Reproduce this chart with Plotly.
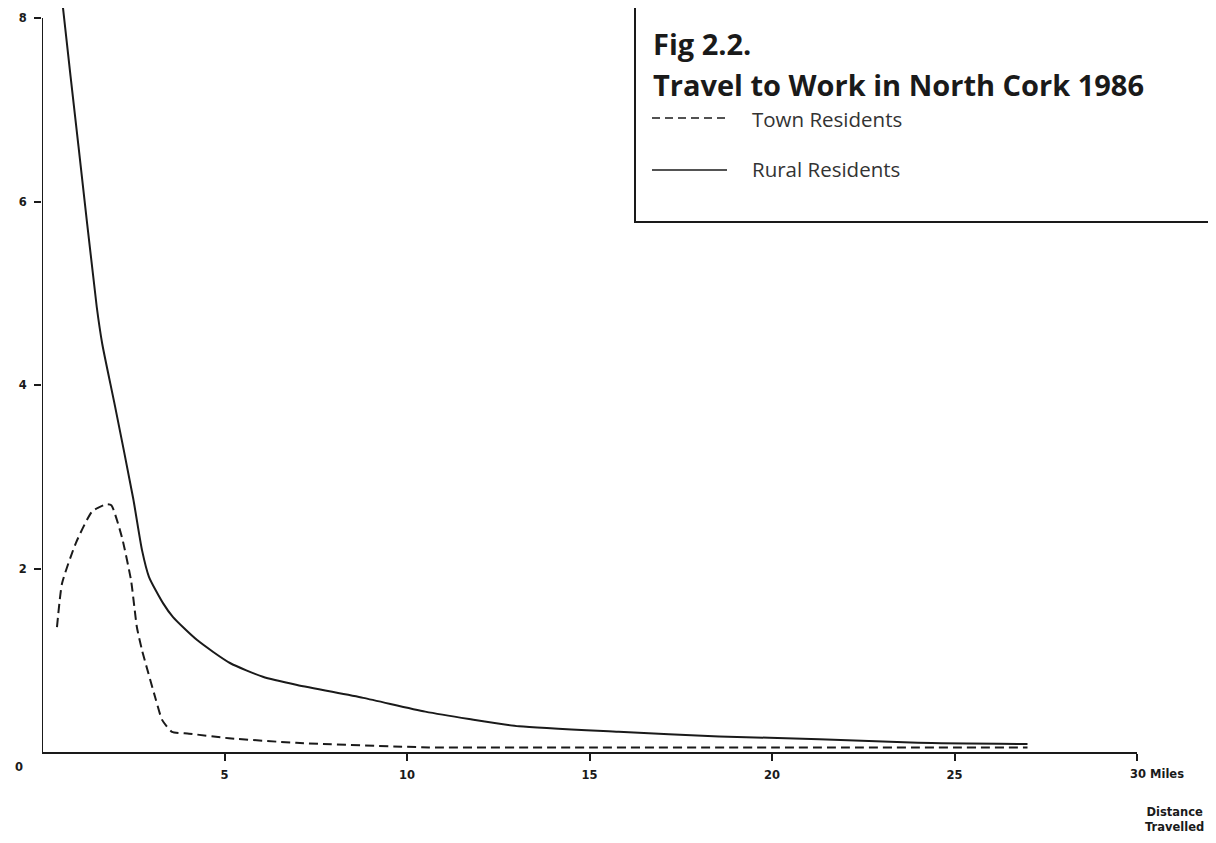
import plotly.graph_objects as go

# ---- data ----
rural_miles = [0.5, 0.55, 1.0, 1.5, 1.65, 2.0, 2.5, 2.74, 2.93, 3.32, 3.59, 4.25, 5.15, 6.05, 6.99,
               8.8, 10.5, 11.7, 13.07, 15.8, 18.55, 21.3, 24.0, 27.0]
rural_pct = [8.45, 8.2, 6.6, 4.85, 4.45, 3.77, 2.76, 2.2, 1.91, 1.62, 1.47, 1.22, 0.97, 0.82, 0.73,
             0.59, 0.44, 0.36, 0.28, 0.22, 0.17, 0.14, 0.10, 0.087]

town_miles = [0.41, 0.55, 0.93, 1.37, 1.75, 1.9, 2.19, 2.44, 2.6, 2.74, 3.12, 3.29, 3.56, 4.03,
              5.12, 6.96, 10.6, 15.0, 20.0, 27.0]
town_pct = [1.36, 1.84, 2.28, 2.62, 2.70, 2.69, 2.34, 1.87, 1.36, 1.11, 0.57, 0.35, 0.22, 0.20,
            0.15, 0.10, 0.05, 0.05, 0.05, 0.05]

x_ticks = [5, 10, 15, 20, 25, 30]
x_tick_text = ["5", "10", "15", "20", "25", ""]
y_ticks = [2, 4, 6, 8]
y_tick_text = ["2", "4", "6", "8"]

title_line1 = "Fig 2.2."
title_line2 = "Travel to Work in North Cork 1986"
town_label = "Town Residents"
rural_label = "Rural Residents"

INK = "#1a1a1a"
tick_font = dict(family="DejaVu Sans", size=11.5, color=INK, weight="bold")

# page offset (body margin) and plot-area geometry in page px
OFF = 8
L_page, R_page, T_page, B_page = 42, 1137, 8, 752
L, R, T, B = L_page - OFF, R_page - OFF, T_page - OFF, B_page - OFF
W, H = R - L, B - T
PX_PER_UNIT = 91.75
y_top = (B_page - T_page) / PX_PER_UNIT

def px(xp):  # page x px -> paper
    return (xp - OFF - L) / W
def py(yp):  # page y px -> paper
    return (B - (yp - OFF)) / H

fig = go.Figure()
fig.add_trace(go.Scatter(x=rural_miles, y=rural_pct, mode="lines", name=rural_label,
                         line=dict(color=INK, width=2, shape="spline", smoothing=0.6)))
fig.add_trace(go.Scatter(x=town_miles, y=town_pct, mode="lines", name=town_label,
                         line=dict(color=INK, width=2, dash="9px,5px", shape="spline", smoothing=0.5)))

fig.update_layout(
    width=1216, height=843,
    margin=dict(l=L, r=1216 - R, t=T, b=843 - B, autoexpand=False),
    paper_bgcolor="white", plot_bgcolor="white",
    showlegend=False,
    xaxis=dict(range=[0, 30], tickvals=x_ticks, ticktext=x_tick_text, ticks="outside",
               ticklen=7, tickwidth=1.5, tickcolor=INK, showline=True, linecolor=INK,
               linewidth=2, showgrid=False, zeroline=False, tickfont=tick_font,
               ticklabelstandoff=4),
    yaxis=dict(range=[0, y_top], tickvals=y_ticks, ticktext=y_tick_text, ticks="outside",
               ticklen=7, tickwidth=1.5, tickcolor=INK, showline=False, showgrid=False,
               zeroline=False, tickfont=tick_font, ticklabelstandoff=5),
)

shapes = []
# y axis line from 0 to 8
shapes.append(dict(type="line", xref="x", yref="y", x0=0, x1=0, y0=0, y1=8,
                   line=dict(color=INK, width=2)))
# legend box
shapes.append(dict(type="rect", xref="paper", yref="paper",
                   x0=px(635), x1=px(1213), y0=py(222), y1=py(-5),
                   line=dict(color=INK, width=2), fillcolor="rgba(0,0,0,0)"))
# legend samples
shapes.append(dict(type="line", xref="paper", yref="paper", x0=px(652), x1=px(727),
                   y0=py(118), y1=py(118), line=dict(color=INK, width=1.5, dash="8px,5px")))
shapes.append(dict(type="line", xref="paper", yref="paper", x0=px(652), x1=px(727),
                   y0=py(170), y1=py(170), line=dict(color=INK, width=1.5)))
fig.update_layout(shapes=shapes)

ann = []
title_font = dict(family="Open Sans", size=29, color=INK)
ann.append(dict(text="<b>" + title_line1 + "</b>", xref="paper", yref="paper", x=px(651), y=py(44),
                xanchor="left", yanchor="middle", showarrow=False, font=title_font))
ann.append(dict(text="<b>" + title_line2 + "</b>", xref="paper", yref="paper", x=px(651), y=py(84),
                xanchor="left", yanchor="middle", showarrow=False, font=title_font))
leg_font = dict(family="Open Sans", size=20.5, color="#333")
ann.append(dict(text=town_label, xref="paper", yref="paper", x=px(750), y=py(119),
                xanchor="left", yanchor="middle", showarrow=False, font=leg_font))
ann.append(dict(text=rural_label, xref="paper", yref="paper", x=px(750), y=py(169),
                xanchor="left", yanchor="middle", showarrow=False, font=leg_font))
# axis extras
ann.append(dict(text="0", xref="paper", yref="paper", x=px(19), y=py(767),
                xanchor="center", yanchor="middle", showarrow=False, font=tick_font))
ann.append(dict(text="30 Miles", xref="x", yref="paper", x=30, y=py(774), xshift=-9,
                xanchor="left", yanchor="middle", showarrow=False, font=tick_font))
ann.append(dict(text="Distance<br>Travelled", xref="paper", yref="paper", x=px(1174), y=py(819),
                xanchor="center", yanchor="middle", align="center", showarrow=False, font=tick_font))
fig.update_layout(annotations=ann)

fig.write_html("out.html")
